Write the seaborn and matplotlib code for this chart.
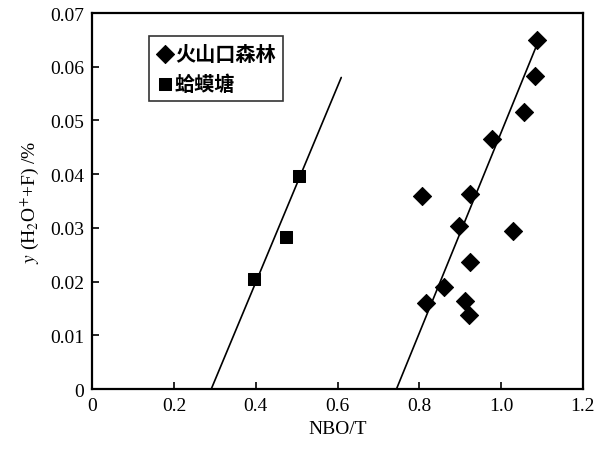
import pandas as pd
import matplotlib
matplotlib.use("Agg")
import matplotlib.pyplot as plt
import seaborn as sns

# ==========================
# DATA
# ==========================

# 火山口森林 (diamonds)
hs_nbo = [1.087, 1.083, 1.056, 0.978, 0.807, 0.923, 0.896, 1.028,
          0.923, 0.860, 0.816, 0.911, 0.922]
hs_y = [0.0650, 0.0583, 0.0515, 0.0465, 0.0359, 0.0363, 0.0304, 0.0295,
        0.0237, 0.0190, 0.0160, 0.0164, 0.0137]

# 蛤蟆塘 (squares)
hm_nbo = [0.506, 0.475, 0.395]
hm_y = [0.0396, 0.0284, 0.0205]

# trend lines (end points)
hs_line_x = [0.744, 1.087]
hs_line_y = [0.0, 0.0640]
hm_line_x = [0.291, 0.609]
hm_line_y = [0.0, 0.0580]

x_ticks = [0, 0.2, 0.4, 0.6, 0.8, 1.0, 1.2]
x_labels = ["0", "0.2", "0.4", "0.6", "0.8", "1.0", "1.2"]
y_ticks = [0, 0.01, 0.02, 0.03, 0.04, 0.05, 0.06, 0.07]
y_labels = ["0", "0.01", "0.02", "0.03", "0.04", "0.05", "0.06", "0.07"]

df_hs = pd.DataFrame({"NBO/T": hs_nbo, "y": hs_y})
df_hm = pd.DataFrame({"NBO/T": hm_nbo, "y": hm_y})

# ==========================
# PLOT
# ==========================

sns.set_style("white")
plt.rcParams["font.family"] = ["Liberation Serif", "Noto Sans CJK SC"]
plt.rcParams["mathtext.fontset"] = "stix"
plt.rcParams["text.color"] = "black"
plt.rcParams["axes.labelcolor"] = "black"

fig = plt.figure(figsize=(6.11, 4.52), dpi=100)
ax = fig.add_axes([0.151, 0.137, 0.803, 0.832])

sns.lineplot(x=hs_line_x, y=hs_line_y, color="black", lw=1.2, ax=ax)
sns.lineplot(x=hm_line_x, y=hm_line_y, color="black", lw=1.2, ax=ax)

sns.scatterplot(data=df_hs, x="NBO/T", y="y", marker="D", s=85,
                color="black", edgecolor="black", label="火山口森林", ax=ax)
sns.scatterplot(data=df_hm, x="NBO/T", y="y", marker="s", s=85,
                color="black", edgecolor="black", label="蛤蟆塘", ax=ax)

ax.set_xlim(0, 1.2)
ax.set_ylim(0, 0.07)
ax.set_xticks(x_ticks)
ax.set_xticklabels(x_labels)
ax.set_yticks(y_ticks)
ax.set_yticklabels(y_labels)
ax.tick_params(direction="in", length=5, width=1.2, labelsize=14,
               colors="black", pad=6, bottom=True, left=True)

for side in ["left", "right", "top", "bottom"]:
    ax.spines[side].set_color("black")
    ax.spines[side].set_linewidth(1.6)

ax.set_xlabel("NBO/T", fontsize=14)
ax.set_ylabel(r"$y$ (H$_2$O$^{+}$+F) /%", fontsize=14, labelpad=6)

leg = ax.legend(loc="upper left", bbox_to_anchor=(0.115, 0.94),
                prop={"family": "Noto Sans CJK SC", "weight": "bold", "size": 14.5},
                frameon=True, fancybox=False, edgecolor="black",
                handletextpad=0.05, handlelength=0.9, borderpad=0.35,
                labelspacing=0.45, borderaxespad=0)
leg.get_frame().set_linewidth(1.2)

fig.savefig("out.png", dpi=100)
plt.close(fig)
